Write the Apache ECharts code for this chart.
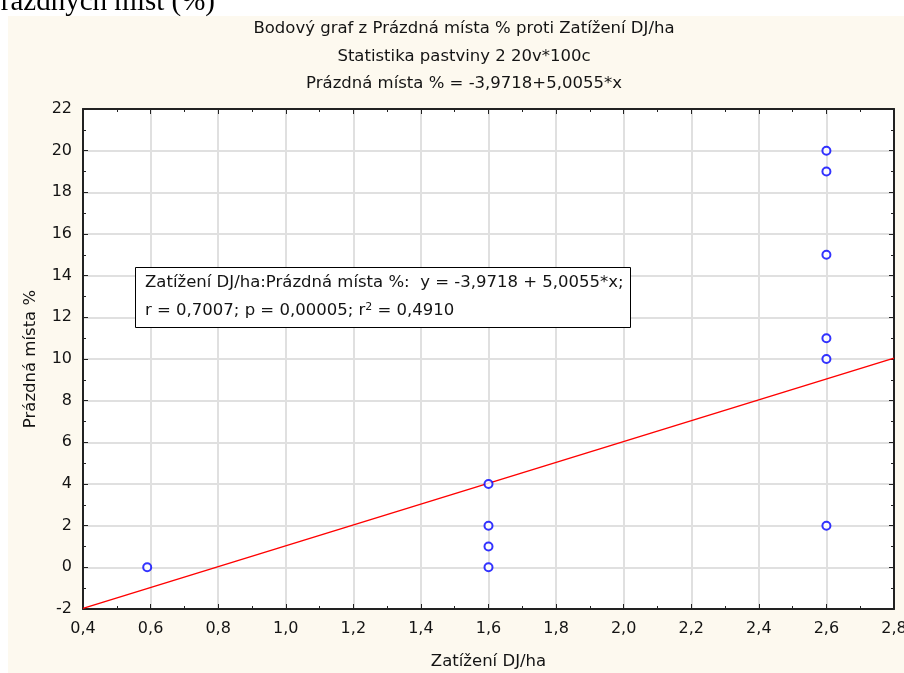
<!DOCTYPE html>
<html>
<head>
<meta charset="utf-8">
<script src="https://cdn.jsdelivr.net/npm/echarts@6/dist/echarts.min.js"></script>
<style>
html,body{margin:0;padding:0;background:#fff;}
#panel{position:absolute;left:8px;top:16px;width:896px;height:657px;background:#fdf9ef;}
#chart{position:absolute;left:0;top:0;width:904px;height:673px;}
</style>
</head>
<body>
<div id="panel"></div>
<div id="chart"></div>
<script>
// ---- data ----
var xValues = [0.59, 1.6, 1.6, 1.6, 1.6, 2.6, 2.6, 2.6, 2.6, 2.6, 2.6];
var yValues = [0, 4, 2, 1, 0, 20, 19, 15, 11, 10, 2];
var regIntercept = -3.9718;
var regSlope = 5.0055;
var xRange = [0.4, 2.8];
var yRange = [-2, 22];
var titleLines = [
  'Bodový graf z Prázdná místa % proti Zatížení DJ/ha',
  'Statistika pastviny 2 20v*100c',
  'Prázdná místa % = -3,9718+5,0055*x'
];
var xName = 'Zatížení DJ/ha';
var yName = 'Prázdná místa %';
var headerText = 'Prázdných míst (%)';
var statLine1 = 'Zatížení DJ/ha:Prázdná místa %:  y = -3,9718 + 5,0055*x;';
var statLine2a = 'r = 0,7007; p = 0,00005; r';
var statLine2b = '2';
var statLine2c = ' = 0,4910';

var FONT = 'DejaVu Sans, Verdana, sans-serif';
var TXT = '#141414';

var points = xValues.map(function (x, i) { return [x, yValues[i]]; });
var regLine = xRange.map(function (x) { return [x, regIntercept + regSlope * x]; });

var chart = echarts.init(document.getElementById('chart'), null, {renderer: 'canvas'});

function axisCommon(showLabel) {
  return {
    axisLine: {show: true, onZero: false, lineStyle: {color: '#222', width: 2}},
    axisTick: {show: true, inside: true, length: 5, lineStyle: {color: '#222', width: 1}},
    minorTick: {show: true, splitNumber: 2, length: 3, lineStyle: {color: '#222', width: 1}},
    axisLabel: {show: showLabel},
    splitLine: {show: false},
    minorSplitLine: {show: false}
  };
}

var xBottom = Object.assign(axisCommon(true), {
  type: 'value', position: 'bottom', min: xRange[0], max: xRange[1], interval: 0.2,
  name: xName, nameLocation: 'middle', nameGap: 44,
  nameTextStyle: {fontFamily: FONT, fontSize: 16.5, color: TXT},
  splitLine: {show: true, lineStyle: {color: '#e0e0e0', width: 2}}
});
xBottom.axisLabel = {show: true, margin: 12, fontFamily: FONT, fontSize: 16, color: TXT,
  formatter: function (v) { return v.toFixed(1).replace('.', ','); }};
var xTop = Object.assign(axisCommon(false), {
  type: 'value', position: 'top', min: xRange[0], max: xRange[1], interval: 0.2
});
var yLeft = Object.assign(axisCommon(true), {
  type: 'value', position: 'left', min: yRange[0], max: yRange[1], interval: 2,
  name: yName, nameLocation: 'middle', nameGap: 44,
  nameTextStyle: {fontFamily: FONT, fontSize: 16.5, color: TXT},
  splitLine: {show: true, lineStyle: {color: '#e0e0e0', width: 2}}
});
yLeft.axisLabel = {show: true, margin: 11, fontFamily: FONT, fontSize: 16, color: TXT,
  formatter: function (v) { return String(Math.round(v)); }};
var yRight = Object.assign(axisCommon(false), {
  type: 'value', position: 'right', min: yRange[0], max: yRange[1], interval: 2
});

var graphics = [
  {type: 'text', x: 215, y: 2, z: 100,
   style: {text: headerText, fontFamily: 'Liberation Serif, Times New Roman, serif', fontSize: 29,
     fill: '#000', align: 'right', verticalAlign: 'middle'}},
  {type: 'group', z: 100, children: [
    {type: 'rect', shape: {x: 135.5, y: 267.5, width: 495, height: 60}, z: 100,
     style: {fill: '#fff', stroke: '#000', lineWidth: 1}},
    {type: 'text', x: 145, y: 283, z: 101,
     style: {text: statLine1, fontFamily: FONT, fontSize: 16.5, fill: TXT, verticalAlign: 'middle'}},
    {type: 'text', x: 145, y: 311, z: 101,
     style: {text: '{a|' + statLine2a + '}{s|' + statLine2b + '}{a|' + statLine2c + '}',
       fontFamily: FONT, fontSize: 16.5, fill: TXT, verticalAlign: 'middle',
       rich: {a: {fontFamily: FONT, fontSize: 16.5, color: TXT},
              s: {fontFamily: FONT, fontSize: 11, color: TXT, verticalAlign: 'top', padding: [0, 0, 8, 0]}}}}
  ]}
];
titleLines.forEach(function (t, i) {
  graphics.push({type: 'text', x: 464, y: [29, 57, 84][i], z: 100,
    style: {text: t, fontFamily: FONT, fontSize: 16.5, fill: TXT, align: 'center', verticalAlign: 'middle'}});
});

chart.setOption({
  backgroundColor: 'transparent',
  animation: false,
  grid: {left: 83, right: 10, top: 109, bottom: 64, show: true, backgroundColor: '#ffffff', borderWidth: 0,
         containLabel: false, outerBoundsMode: 'none'},
  xAxis: [xBottom, xTop],
  yAxis: [yLeft, yRight],
  graphic: graphics,
  series: [
    {type: 'line', data: regLine, xAxisIndex: 0, yAxisIndex: 0, symbol: 'none',
     lineStyle: {color: '#ff0000', width: 1.5}, z: 3, silent: true},
    {type: 'scatter', data: points, xAxisIndex: 0, yAxisIndex: 0, symbol: 'emptyCircle', symbolSize: 8,
     itemStyle: {color: '#0000ff', borderColor: '#0000ff', borderWidth: 1.5}, z: 4}
  ]
});
</script>
</body>
</html>
